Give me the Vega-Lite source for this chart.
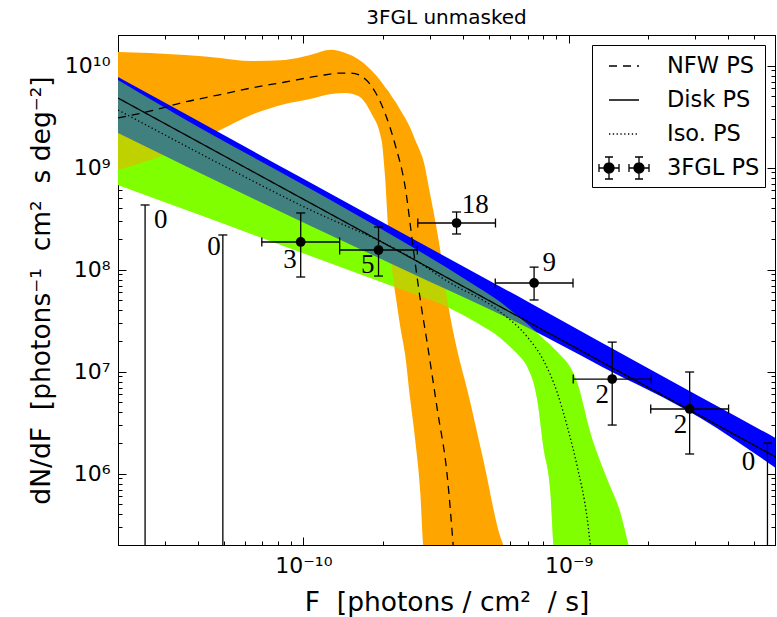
{
  "$schema": "https://vega.github.io/schema/vega-lite/v6.json",
  "width": 657,
  "height": 510,
  "autosize": {"type": "none"},
  "padding": {"left": 118, "top": 35, "right": 2, "bottom": 72},
  "background": "white",
  "title": {"text": "3FGL unmasked", "fontSize": 20, "font": "DejaVu Sans", "fontWeight": "normal", "anchor": "middle", "offset": -4, "color": "black"},
  "config": {
    "font": "DejaVu Sans",
    "view": {"stroke": "black", "strokeWidth": 1},
    "axis": {"domainColor": "black", "tickColor": "black", "labelColor": "black", "titleColor": "black", "grid": false, "labelFont": "DejaVu Sans", "titleFont": "DejaVu Sans", "titleFontWeight": "normal", "labelFontSize": 22, "titleFontSize": 26.5, "tickWidth": 1, "domainWidth": 1}
  },
  "datasets": {
    "orange": [
      {"F": 2.0e-11, "hi": 1.36e10, "lo": 9.48e8},
      {"F": 2.64e-11, "hi": 1.33e10, "lo": 1.19e9},
      {"F": 3.58e-11, "hi": 1.27e10, "lo": 1.60e9},
      {"F": 4.85e-11, "hi": 1.19e10, "lo": 2.34e9},
      {"F": 6.35e-11, "hi": 1.11e10, "lo": 3.29e9},
      {"F": 8.53e-11, "hi": 1.14e10, "lo": 4.22e9},
      {"F": 1.06e-10, "hi": 1.27e10, "lo": 4.72e9},
      {"F": 1.27e-10, "hi": 1.43e10, "lo": 5.28e9},
      {"F": 1.44e-10, "hi": 1.33e10, "lo": 5.40e9},
      {"F": 1.61e-10, "hi": 1.16e10, "lo": 5.05e9},
      {"F": 1.80e-10, "hi": 9.08e9, "lo": 3.44e9},
      {"F": 1.97e-10, "hi": 6.92e9, "lo": 1.87e9},
      {"F": 2.03e-10, "hi": 6.18e9, "lo": 8.47e8},
      {"F": 2.09e-10, "hi": 5.65e9, "lo": 2.45e8},
      {"F": 2.16e-10, "hi": 4.93e9, "lo": 9.93e7},
      {"F": 2.24e-10, "hi": 4.31e9, "lo": 5.05e7},
      {"F": 2.32e-10, "hi": 3.68e9, "lo": 2.74e7},
      {"F": 2.42e-10, "hi": 3.07e9, "lo": 1.46e7},
      {"F": 2.53e-10, "hi": 2.45e9, "lo": 5.28e6},
      {"F": 2.64e-10, "hi": 1.87e9, "lo": 2.14e6},
      {"F": 2.76e-10, "hi": 1.43e9, "lo": 6.47e5},
      {"F": 2.83e-10, "hi": 1.19e9, "lo": 2.0e5},
      {"F": 3.01e-10, "hi": 5.40e8, "lo": 1e5},
      {"F": 3.28e-10, "hi": 1.56e8, "lo": 1e5},
      {"F": 3.49e-10, "hi": 5.05e7, "lo": 1e5},
      {"F": 3.80e-10, "hi": 1.63e7, "lo": 1e5},
      {"F": 4.15e-10, "hi": 6.62e6, "lo": 1e5},
      {"F": 4.77e-10, "hi": 1.36e6, "lo": 1e5},
      {"F": 5.53e-10, "hi": 2.40e5, "lo": 1e5},
      {"F": 5.67e-10, "hi": 2.0e5, "lo": 1e5},
      {"F": 6.0e-10, "hi": 1e5, "lo": 1e5}
    ],
    "green": [
      {"F": 2.0e-11, "hi": 7.24e9, "lo": 6.76e8},
      {"F": 4.08e-11, "hi": 2.45e9, "lo": 3.44e8},
      {"F": 9.72e-11, "hi": 7.08e8, "lo": 1.49e8},
      {"F": 2.32e-10, "hi": 1.95e8, "lo": 6.47e7},
      {"F": 3.49e-10, "hi": 1.04e8, "lo": 4.31e7},
      {"F": 4.53e-10, "hi": 6.76e7, "lo": 3.00e7},
      {"F": 5.53e-10, "hi": 4.82e7, "lo": 2.14e7},
      {"F": 6.03e-10, "hi": 4.03e7, "lo": 1.75e7},
      {"F": 6.58e-10, "hi": 3.36e7, "lo": 1.39e7},
      {"F": 6.99e-10, "hi": 2.94e7, "lo": 1.11e7},
      {"F": 7.62e-10, "hi": 2.39e7, "lo": 5.28e6},
      {"F": 8.03e-10, "hi": 2.09e7, "lo": 1.83e6},
      {"F": 8.54e-10, "hi": 1.83e7, "lo": 6.47e5},
      {"F": 8.76e-10, "hi": 1.71e7, "lo": 2.0e5},
      {"F": 9.07e-10, "hi": 1.56e7, "lo": 1e5},
      {"F": 1.079e-9, "hi": 7.74e6, "lo": 1e5},
      {"F": 1.208e-9, "hi": 2.51e6, "lo": 1e5},
      {"F": 1.401e-9, "hi": 8.67e5, "lo": 1e5},
      {"F": 1.568e-9, "hi": 4.12e5, "lo": 1e5},
      {"F": 1.681e-9, "hi": 2.0e5, "lo": 1e5},
      {"F": 1.8e-9, "hi": 1e5, "lo": 1e5}
    ],
    "blue": [
      {"F": 2.0e-11, "hi": 7.74e9, "lo": 2.19e9},
      {"F": 9.72e-11, "hi": 8.11e8, "lo": 3.00e8},
      {"F": 2.32e-10, "hi": 2.34e8, "lo": 1.04e8},
      {"F": 7.05e-10, "hi": 4.82e7, "lo": 2.68e7},
      {"F": 1.318e-9, "hi": 1.95e7, "lo": 1.14e7},
      {"F": 3.14e-9, "hi": 5.65e6, "lo": 3.52e6},
      {"F": 6.03e-9, "hi": 2.24e6, "lo": 1.14e6}
    ],
    "lines": [
      {"series": "NFW PS", "F": 2.0e-11, "y": 3.07e9},
      {"series": "NFW PS", "F": 2.66e-11, "y": 3.60e9},
      {"series": "NFW PS", "F": 3.58e-11, "y": 4.41e9},
      {"series": "NFW PS", "F": 4.77e-11, "y": 5.16e9},
      {"series": "NFW PS", "F": 6.35e-11, "y": 6.04e9},
      {"series": "NFW PS", "F": 8.53e-11, "y": 6.92e9},
      {"series": "NFW PS", "F": 1.137e-10, "y": 7.92e9},
      {"series": "NFW PS", "F": 1.388e-10, "y": 8.47e9},
      {"series": "NFW PS", "F": 1.514e-10, "y": 8.47e9},
      {"series": "NFW PS", "F": 1.710e-10, "y": 7.41e9},
      {"series": "NFW PS", "F": 1.866e-10, "y": 5.52e9},
      {"series": "NFW PS", "F": 2.03e-10, "y": 3.44e9},
      {"series": "NFW PS", "F": 2.22e-10, "y": 1.67e9},
      {"series": "NFW PS", "F": 2.42e-10, "y": 6.47e8},
      {"series": "NFW PS", "F": 2.60e-10, "y": 1.56e8},
      {"series": "NFW PS", "F": 2.76e-10, "y": 5.05e7},
      {"series": "NFW PS", "F": 2.93e-10, "y": 1.91e7},
      {"series": "NFW PS", "F": 3.20e-10, "y": 4.22e6},
      {"series": "NFW PS", "F": 3.49e-10, "y": 9.29e5},
      {"series": "NFW PS", "F": 3.67e-10, "y": 2.0e5},
      {"series": "Disk PS", "F": 2.0e-11, "y": 4.82e9},
      {"series": "Disk PS", "F": 6.03e-9, "y": 1.46e6},
      {"series": "Iso. PS", "F": 2.0e-11, "y": 3.68e9},
      {"series": "Iso. PS", "F": 9.72e-11, "y": 4.31e8},
      {"series": "Iso. PS", "F": 2.71e-10, "y": 1.19e8},
      {"series": "Iso. PS", "F": 3.43e-10, "y": 7.92e7},
      {"series": "Iso. PS", "F": 5.53e-10, "y": 3.85e7},
      {"series": "Iso. PS", "F": 6.99e-10, "y": 2.19e7},
      {"series": "Iso. PS", "F": 8.03e-10, "y": 1.30e7},
      {"series": "Iso. PS", "F": 9.07e-10, "y": 6.18e6},
      {"series": "Iso. PS", "F": 9.89e-10, "y": 2.87e6},
      {"series": "Iso. PS", "F": 1.079e-9, "y": 1.16e6},
      {"series": "Iso. PS", "F": 1.177e-9, "y": 3.52e5},
      {"series": "Iso. PS", "F": 1.208e-9, "y": 2.0e5}
    ],
    "points": [
      {"F": 9.77e-11, "y": 1.87e8, "ylo": 8.48e7, "yhi": 3.60e8, "flo": 6.97e-11, "fhi": 1.37e-10},
      {"F": 1.92e-10, "y": 1.56e8, "ylo": 8.67e7, "yhi": 2.62e8, "flo": 1.37e-10, "fhi": 2.69e-10},
      {"F": 3.78e-10, "y": 2.87e8, "ylo": 2.24e8, "yhi": 3.68e8, "flo": 2.70e-10, "fhi": 5.30e-10},
      {"F": 7.41e-10, "y": 7.41e7, "ylo": 5.05e7, "yhi": 1.06e8, "flo": 5.29e-10, "fhi": 1.039e-9},
      {"F": 1.46e-9, "y": 8.47e6, "ylo": 3.0e6, "yhi": 1.95e7, "flo": 1.041e-9, "fhi": 2.05e-9},
      {"F": 2.86e-9, "y": 4.31e6, "ylo": 1.56e6, "yhi": 9.93e6, "flo": 2.04e-9, "fhi": 4.01e-9}
    ],
    "zeros": [
      {"F": 2.53e-11, "yhi": 4.31e8},
      {"F": 4.97e-11, "yhi": 2.19e8},
      {"F": 5.62e-9, "yhi": 2.0e6}
    ],
    "labels": [
      {"F": 2.90e-11, "y": 3.07e8, "n": "0"},
      {"F": 4.60e-11, "y": 1.67e8, "n": "0"},
      {"F": 8.91e-11, "y": 1.24e8, "n": "3"},
      {"F": 1.75e-10, "y": 1.11e8, "n": "5"},
      {"F": 4.45e-10, "y": 4.31e8, "n": "18"},
      {"F": 8.45e-10, "y": 1.16e8, "n": "9"},
      {"F": 1.34e-9, "y": 5.92e6, "n": "2"},
      {"F": 2.64e-9, "y": 3.0e6, "n": "2"},
      {"F": 4.77e-9, "y": 1.30e6, "n": "0"}
    ]
  },
  "resolve": {"axis": {"x": "independent", "y": "independent"}},
  "layer": [
    {
      "data": {"name": "green"},
      "mark": {"type": "area", "color": "#7FFF00", "opacity": 1, "clip": true, "interpolate": "monotone"},
      "encoding": {
        "x": {"field": "F", "type": "quantitative", "scale": {"type": "log", "domain": [2e-11, 6e-9], "nice": false},
          "axis": {"orient": "bottom", "title": "F\u00a0\u00a0[photons / cm²\u00a0\u00a0/ s]", "titlePadding": 9,
            "values": [2e-11,3e-11,4e-11,5e-11,6e-11,7e-11,8e-11,9e-11,1e-10,2e-10,3e-10,4e-10,5e-10,6e-10,7e-10,8e-10,9e-10,1e-9,2e-9,3e-9,4e-9,5e-9,6e-9],
            "labelExpr": "datum.value > 9e-11 && datum.value < 1.1e-10 ? '10⁻¹⁰' : (datum.value > 9e-10 && datum.value < 1.1e-9 ? '10⁻⁹' : '')",
            "tickSize": {"condition": {"test": "(datum.value > 9e-11 && datum.value < 1.1e-10) || (datum.value > 9e-10 && datum.value < 1.1e-9)", "value": -8}, "value": -4},
            "labelPadding": 18, "labelOverlap": false, "labelFlush": false}},
        "y": {"field": "hi", "type": "quantitative", "scale": {"type": "log", "domain": [2e5, 2e10], "nice": false},
          "axis": {"orient": "left", "title": "dN/dF\u00a0\u00a0[photons⁻¹\u00a0\u00a0cm²\u00a0\u00a0s deg⁻²]", "titlePadding": 9,
            "values": [2e5,3e5,4e5,5e5,6e5,7e5,8e5,9e5,1e6,2e6,3e6,4e6,5e6,6e6,7e6,8e6,9e6,1e7,2e7,3e7,4e7,5e7,6e7,7e7,8e7,9e7,1e8,2e8,3e8,4e8,5e8,6e8,7e8,8e8,9e8,1e9,2e9,3e9,4e9,5e9,6e9,7e9,8e9,9e9,1e10,2e10],
            "labelExpr": "datum.value > 9e5 && datum.value < 1.1e6 ? '10⁶' : (datum.value > 9e6 && datum.value < 1.1e7 ? '10⁷' : (datum.value > 9e7 && datum.value < 1.1e8 ? '10⁸' : (datum.value > 9e8 && datum.value < 1.1e9 ? '10⁹' : (datum.value > 9e9 && datum.value < 1.1e10 ? '10¹⁰' : ''))))",
            "tickSize": {"condition": {"test": "abs(log(datum.value)/LN10 - round(log(datum.value)/LN10)) < 0.01", "value": -8}, "value": -4},
            "labelPadding": 16, "labelOverlap": false, "labelFlush": false}},
        "y2": {"field": "lo"}
      }
    },
    {
      "data": {"name": "orange"},
      "mark": {"type": "area", "color": "#FFA500", "opacity": 1, "clip": true, "interpolate": "monotone"},
      "encoding": {
        "x": {"field": "F", "type": "quantitative", "scale": {"type": "log", "domain": [2e-11, 6e-9], "nice": false},
          "axis": {"orient": "top", "title": null, "labels": false,
            "values": [2e-11,3e-11,4e-11,5e-11,6e-11,7e-11,8e-11,9e-11,1e-10,2e-10,3e-10,4e-10,5e-10,6e-10,7e-10,8e-10,9e-10,1e-9,2e-9,3e-9,4e-9,5e-9,6e-9],
            "tickSize": {"condition": {"test": "(datum.value > 9e-11 && datum.value < 1.1e-10) || (datum.value > 9e-10 && datum.value < 1.1e-9)", "value": -8}, "value": -4}}},
        "y": {"field": "hi", "type": "quantitative", "scale": {"type": "log", "domain": [2e5, 2e10], "nice": false},
          "axis": {"orient": "right", "title": null, "labels": false,
            "values": [2e5,3e5,4e5,5e5,6e5,7e5,8e5,9e5,1e6,2e6,3e6,4e6,5e6,6e6,7e6,8e6,9e6,1e7,2e7,3e7,4e7,5e7,6e7,7e7,8e7,9e7,1e8,2e8,3e8,4e8,5e8,6e8,7e8,8e8,9e8,1e9,2e9,3e9,4e9,5e9,6e9,7e9,8e9,9e9,1e10,2e10],
            "tickSize": {"condition": {"test": "abs(log(datum.value)/LN10 - round(log(datum.value)/LN10)) < 0.01", "value": -8}, "value": -4}}},
        "y2": {"field": "lo"}
      }
    },
    {
      "data": {"name": "blue"},
      "mark": {"type": "area", "color": "#0000FF", "opacity": 1, "clip": true, "interpolate": "monotone"},
      "encoding": {
        "x": {"field": "F", "type": "quantitative", "scale": {"type": "log", "domain": [2e-11, 6e-9], "nice": false}, "axis": null},
        "y": {"field": "hi", "type": "quantitative", "scale": {"type": "log", "domain": [2e5, 2e10], "nice": false}, "axis": null},
        "y2": {"field": "lo"}
      }
    },
    {
      "data": {"name": "green"},
      "mark": {"type": "area", "color": "#7FFF00", "opacity": 0.5, "clip": true, "interpolate": "monotone"},
      "encoding": {
        "x": {"field": "F", "type": "quantitative", "scale": {"type": "log", "domain": [2e-11, 6e-9], "nice": false}, "axis": null},
        "y": {"field": "hi", "type": "quantitative", "scale": {"type": "log", "domain": [2e5, 2e10], "nice": false}, "axis": null},
        "y2": {"field": "lo"}
      }
    },
    {
      "data": {"name": "lines"},
      "mark": {"type": "line", "color": "black", "strokeWidth": 1.3, "clip": true, "interpolate": "monotone"},
      "encoding": {
        "x": {"field": "F", "type": "quantitative", "scale": {"type": "log", "domain": [2e-11, 6e-9], "nice": false}, "axis": null},
        "y": {"field": "y", "type": "quantitative", "scale": {"type": "log", "domain": [2e5, 2e10], "nice": false}, "axis": null},
        "strokeDash": {"field": "series", "type": "nominal",
          "scale": {"domain": ["NFW PS", "Disk PS", "Iso. PS", "3FGL PS"], "range": [[8, 6], [1, 0], [1.3, 2.5], [1, 0]]},
          "legend": {
            "title": null, "orient": "top-right", "offset": 10, "padding": 5,
            "fillColor": "white", "strokeColor": "black", "cornerRadius": 0,
            "labelFont": "DejaVu Sans", "labelFontSize": 22.5, "labelColor": "black",
            "labelOffset": 27, "symbolOffset": 11, "symbolSize": 400, "rowPadding": 6,
            "symbolType": "stroke", "symbolStrokeColor": "black", "symbolStrokeWidth": 1.3,
            "encode": {"symbols": {"update": {
              "shape": {"signal": "datum.value === '3FGL PS' ? 'M-1.667,0H-0.333M-1.667,-0.267V0.267M-0.333,-0.267V0.267M-1,-0.733V0.733M-1.267,-0.733H-0.733M-1.267,0.733H-0.733M-0.667,0A0.333,0.333,0,1,1,-1.333,0A0.333,0.333,0,1,1,-0.667,0ZM0.333,0H1.667M0.333,-0.267V0.267M1.667,-0.267V0.267M1,-0.733V0.733M0.733,-0.733H1.267M0.733,0.733H1.267M1.333,0A0.333,0.333,0,1,1,0.667,0A0.333,0.333,0,1,1,1.333,0Z' : 'stroke'"},
              "size": {"value": 900},
              "fill": {"signal": "datum.value === '3FGL PS' ? 'black' : 'transparent'"},
              "stroke": {"value": "black"}
            }}}
          }}
      }
    },
    {
      "data": {"name": "points"},
      "mark": {"type": "rule", "color": "black", "strokeWidth": 1.3},
      "encoding": {
        "x": {"field": "F", "type": "quantitative", "scale": {"type": "log", "domain": [2e-11, 6e-9], "nice": false}, "axis": null},
        "y": {"field": "ylo", "type": "quantitative", "scale": {"type": "log", "domain": [2e5, 2e10], "nice": false}, "axis": null},
        "y2": {"field": "yhi"}
      }
    },
    {
      "data": {"name": "points"},
      "mark": {"type": "rule", "color": "black", "strokeWidth": 1.3},
      "encoding": {
        "x": {"field": "flo", "type": "quantitative", "scale": {"type": "log", "domain": [2e-11, 6e-9], "nice": false}, "axis": null},
        "x2": {"field": "fhi"},
        "y": {"field": "y", "type": "quantitative", "scale": {"type": "log", "domain": [2e5, 2e10], "nice": false}, "axis": null}
      }
    },
    {
      "data": {"name": "points"},
      "mark": {"type": "point", "shape": "stroke", "size": 81, "stroke": "black", "strokeWidth": 1.3, "filled": false, "opacity": 1},
      "encoding": {
        "x": {"field": "F", "type": "quantitative", "scale": {"type": "log", "domain": [2e-11, 6e-9], "nice": false}, "axis": null},
        "y": {"field": "ylo", "type": "quantitative", "scale": {"type": "log", "domain": [2e5, 2e10], "nice": false}, "axis": null}
      }
    },
    {
      "data": {"name": "points"},
      "mark": {"type": "point", "shape": "stroke", "size": 81, "stroke": "black", "strokeWidth": 1.3, "filled": false, "opacity": 1},
      "encoding": {
        "x": {"field": "F", "type": "quantitative", "scale": {"type": "log", "domain": [2e-11, 6e-9], "nice": false}, "axis": null},
        "y": {"field": "yhi", "type": "quantitative", "scale": {"type": "log", "domain": [2e5, 2e10], "nice": false}, "axis": null}
      }
    },
    {
      "data": {"name": "points"},
      "mark": {"type": "point", "shape": "M0,-1L0,1", "size": 81, "stroke": "black", "strokeWidth": 1.3, "filled": false, "opacity": 1},
      "encoding": {
        "x": {"field": "flo", "type": "quantitative", "scale": {"type": "log", "domain": [2e-11, 6e-9], "nice": false}, "axis": null},
        "y": {"field": "y", "type": "quantitative", "scale": {"type": "log", "domain": [2e5, 2e10], "nice": false}, "axis": null}
      }
    },
    {
      "data": {"name": "points"},
      "mark": {"type": "point", "shape": "M0,-1L0,1", "size": 81, "stroke": "black", "strokeWidth": 1.3, "filled": false, "opacity": 1},
      "encoding": {
        "x": {"field": "fhi", "type": "quantitative", "scale": {"type": "log", "domain": [2e-11, 6e-9], "nice": false}, "axis": null},
        "y": {"field": "y", "type": "quantitative", "scale": {"type": "log", "domain": [2e5, 2e10], "nice": false}, "axis": null}
      }
    },
    {
      "data": {"name": "points"},
      "mark": {"type": "circle", "size": 95, "color": "black", "opacity": 1},
      "encoding": {
        "x": {"field": "F", "type": "quantitative", "scale": {"type": "log", "domain": [2e-11, 6e-9], "nice": false}, "axis": null},
        "y": {"field": "y", "type": "quantitative", "scale": {"type": "log", "domain": [2e5, 2e10], "nice": false}, "axis": null}
      }
    },
    {
      "data": {"name": "zeros"},
      "mark": {"type": "rule", "color": "black", "strokeWidth": 1.3},
      "encoding": {
        "x": {"field": "F", "type": "quantitative", "scale": {"type": "log", "domain": [2e-11, 6e-9], "nice": false}, "axis": null},
        "y": {"field": "yhi", "type": "quantitative", "scale": {"type": "log", "domain": [2e5, 2e10], "nice": false}, "axis": null},
        "y2": {"datum": 200000}
      }
    },
    {
      "data": {"name": "zeros"},
      "mark": {"type": "point", "shape": "stroke", "size": 81, "stroke": "black", "strokeWidth": 1.3, "filled": false, "opacity": 1},
      "encoding": {
        "x": {"field": "F", "type": "quantitative", "scale": {"type": "log", "domain": [2e-11, 6e-9], "nice": false}, "axis": null},
        "y": {"field": "yhi", "type": "quantitative", "scale": {"type": "log", "domain": [2e5, 2e10], "nice": false}, "axis": null}
      }
    },
    {
      "data": {"name": "labels"},
      "mark": {"type": "text", "font": "Liberation Serif", "fontSize": 27, "color": "black", "align": "center", "baseline": "middle"},
      "encoding": {
        "x": {"field": "F", "type": "quantitative", "scale": {"type": "log", "domain": [2e-11, 6e-9], "nice": false}, "axis": null},
        "y": {"field": "y", "type": "quantitative", "scale": {"type": "log", "domain": [2e5, 2e10], "nice": false}, "axis": null},
        "text": {"field": "n"}
      }
    }
  ]
}
